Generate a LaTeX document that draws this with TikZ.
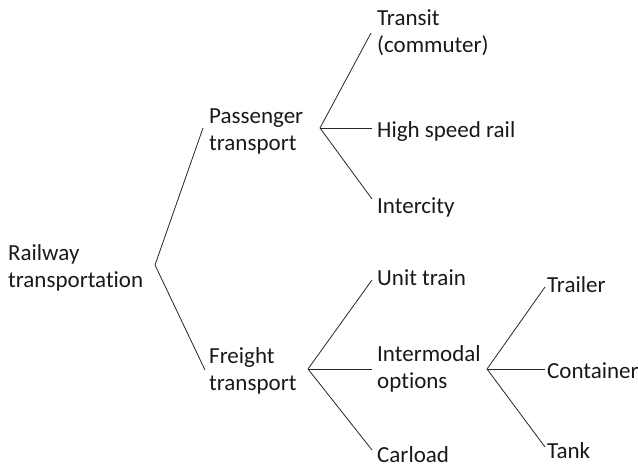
\documentclass[tikz,border=0pt]{standalone}
\usepackage{fontspec}
\setmainfont{Carlito}[Ligatures=NoCommon]
\begin{document}
\begin{tikzpicture}[x=1pt,y=-1pt,
  lbl/.style={anchor=base west,inner sep=0pt,align=left,text=black!90,
    font=\fontsize{23}{27}\selectfont},
  conn/.style={draw=black!85,line width=0.8pt}]
\useasboundingbox (0,0) rectangle (638,464);
% junctions
\coordinate (jR) at (155,265);
\coordinate (jP) at (320,128);
\coordinate (jF) at (308,369);
\coordinate (jI) at (487,369);
% line ends
\coordinate (ePa) at (203,128);
\coordinate (eFr) at (205,370);
\coordinate (eTr) at (371,33);
\coordinate (eHs) at (372,128);
\coordinate (eIc) at (372,199);
\coordinate (eUt) at (372,280);
\coordinate (eIm) at (372,369);
\coordinate (eCl) at (372,450);
\coordinate (eTl) at (545,287);
\coordinate (eCo) at (545,369);
\coordinate (eTk) at (545,447);
% labels (base = last line baseline)
\node[lbl] (rail) at (8,287) {Railway\\transportation};
\node[lbl] (pass) at (209,150) {Passenger\\transport};
\node[lbl] (frei) at (209,390) {Freight\\transport};
\node[lbl] (tran) at (377,52) {Transit\\(commuter)};
\node[lbl] (hsr) at (377,137) {High speed rail};
\node[lbl] (inter) at (377,213) {Intercity};
\node[lbl] (unit) at (377,285) {Unit train};
\node[lbl] (imod) at (377,388) {Intermodal\\options};
\node[lbl] (carl) at (377,462) {Carload};
\node[lbl] (trail) at (547,292) {Trailer};
\node[lbl] (cont) at (547,378) {Container};
\node[lbl] (tank) at (547,458) {Tank};
% connectors
\draw[conn] (ePa) -- (jR) -- (eFr);
\draw[conn] (eTr) -- (jP) -- (eIc);
\draw[conn] (jP) -- (eHs);
\draw[conn] (eUt) -- (jF) -- (eCl);
\draw[conn] (jF) -- (eIm);
\draw[conn] (eTl) -- (jI) -- (eTk);
\draw[conn] (jI) -- (eCo);
\end{tikzpicture}
\end{document}
